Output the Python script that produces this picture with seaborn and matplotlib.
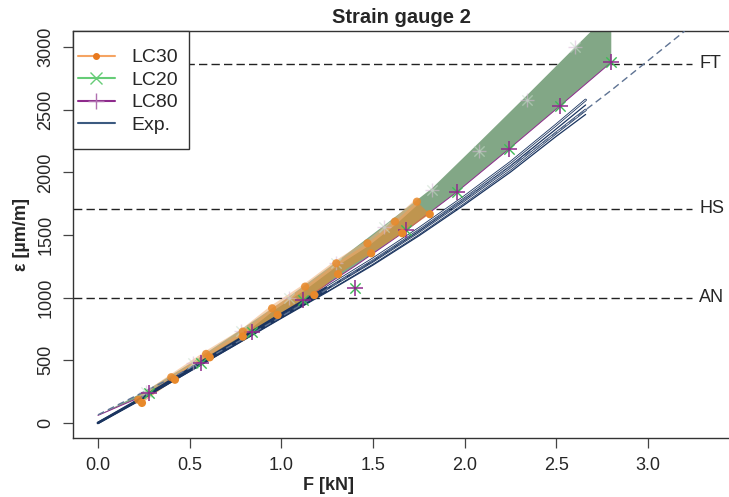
import numpy as np
import pandas as pd
import seaborn as sns
import matplotlib
matplotlib.use("Agg")
from matplotlib import pyplot as plt
from matplotlib.lines import Line2D
from matplotlib.patches import Rectangle

# ---------------------------------------------------------------
# Data
# ---------------------------------------------------------------
# LC20 band (green), upper and lower edges
lc20_up_F = [0.0, 0.26, 0.52, 0.78, 1.04, 1.30, 1.56, 1.82, 2.08, 2.34, 2.60, 2.80]
lc20_up_eps = [60, 255, 490, 745, 1005, 1285, 1575, 1870, 2240, 2615, 2995, 3285]
lc20_lo_F = [0.0, 0.28, 0.56, 0.84, 1.12, 1.40, 1.68, 1.96, 2.24, 2.52, 2.80]
lc20_lo_eps = [60, 237, 476, 729, 982, 1250, 1535, 1846, 2184, 2530, 2879]

# LC80 / LC20 markers on the lower edge
lc80_F = [0.28, 0.56, 0.84, 1.12, 1.40, 1.68, 1.96, 2.24, 2.52, 2.80]
lc80_eps = [237, 476, 729, 982, 1080, 1540, 1846, 2184, 2530, 2879]

# faint markers on the upper edge
faint_F = [0.26, 0.52, 0.78, 1.04, 1.30, 1.56, 1.82, 2.08, 2.34, 2.60]
faint_eps = [250, 481, 737, 995, 1279, 1567, 1860, 2168, 2578, 3000]

# LC30 band (orange)
lc30_up_F = [0.22, 0.40, 0.59, 0.79, 0.95, 1.13, 1.30, 1.47, 1.62, 1.74]
lc30_up_eps = [185, 365, 551, 729, 915, 1088, 1274, 1434, 1607, 1766]
lc30_lo_F = [0.24, 0.42, 0.61, 0.79, 0.98, 1.18, 1.31, 1.49, 1.66, 1.81]
lc30_lo_eps = [160, 345, 524, 689, 862, 1021, 1187, 1354, 1514, 1666]

# Experiments
exp_F = [0.0, 0.25, 0.5, 0.75, 1.0, 1.25, 1.5, 1.75, 2.0, 2.25, 2.5, 2.66]
exp1_eps = [0, 210, 432, 650, 870, 1085, 1310, 1552, 1808, 2080, 2380, 2578]
exp2_eps = [0, 206, 424, 640, 857, 1070, 1292, 1530, 1784, 2052, 2347, 2538]
exp3_eps = [0, 202, 417, 630, 845, 1056, 1275, 1510, 1762, 2026, 2316, 2498]
exp4_eps = [0, 199, 411, 622, 835, 1044, 1260, 1493, 1742, 2002, 2288, 2462]

# dashed fit line
fit_F = [0.0, 0.4, 0.8, 1.2, 1.6, 2.0, 2.4, 2.8, 3.2]
fit_eps = [65, 358, 677, 1021, 1392, 1787, 2208, 2655, 3127]

# reference levels
levels = {"AN": 1000, "HS": 1710, "FT": 2865}

# ---------------------------------------------------------------
sns.set_style("white")
plt.rcParams['font.family'] = ['Liberation Sans', 'DejaVu Sans']

W, H = 729, 497
fig = plt.figure(figsize=(W / 100, H / 100), dpi=100)
ax = fig.add_axes([73 / W, 1 - 438 / H, 1 - 73 / W, (438 - 31) / H])

orange = "#E8892B"
green = "#82A786"
purple = "#8E2A8C"
navy = "#1B3560"

# green band
ax.fill(lc20_up_F + lc20_lo_F[::-1], lc20_up_eps + lc20_lo_eps[::-1],
        color=green, lw=0, zorder=2)
sns.lineplot(x=lc20_lo_F, y=lc20_lo_eps, ax=ax, color=purple, lw=0.7,
             sort=False, estimator=None, zorder=3)

# orange band
ax.fill(lc30_up_F + lc30_lo_F[::-1], lc30_up_eps + lc30_lo_eps[::-1],
        color=orange, alpha=0.6, lw=0, zorder=4)
sns.lineplot(x=lc30_up_F, y=lc30_up_eps, ax=ax, color="#F2B27A", lw=4,
             alpha=0.55, sort=False, estimator=None, zorder=4)

# experiments (two drawn hollow like the scanned traces)
for i, e in enumerate([exp1_eps, exp2_eps, exp3_eps, exp4_eps]):
    if i in (0, 2):
        sns.lineplot(x=exp_F, y=e, ax=ax, color=navy, lw=1.8,
                     sort=False, estimator=None, zorder=5)
        sns.lineplot(x=exp_F[5:], y=e[5:], ax=ax, color="white", lw=0.6,
                     sort=False, estimator=None, zorder=5)
    else:
        sns.lineplot(x=exp_F, y=e, ax=ax, color=navy, lw=0.9,
                     sort=False, estimator=None, zorder=5)
sns.lineplot(x=fit_F, y=fit_eps, ax=ax, color="#5E7393", lw=1,
             linestyle=(0, (5, 3)), sort=False, estimator=None, zorder=5)

# markers
sns.scatterplot(x=faint_F, y=faint_eps, ax=ax, marker="+", color="#D8B8D8",
                s=110, linewidth=1, alpha=0.55, zorder=6)
sns.scatterplot(x=faint_F, y=faint_eps, ax=ax, marker="x", color="#C8DCCB",
                s=55, linewidth=1, alpha=0.55, zorder=6)
sns.scatterplot(x=lc80_F, y=lc80_eps, ax=ax, marker="x", color="#3DBB55",
                s=55, linewidth=1, zorder=7)
sns.scatterplot(x=lc80_F, y=lc80_eps, ax=ax, marker="+", color=purple,
                s=130, linewidth=1.1, zorder=7)
sns.scatterplot(x=lc30_up_F, y=lc30_up_eps, ax=ax, color=orange, s=35,
                edgecolor="none", alpha=0.85, zorder=7)
sns.scatterplot(x=lc30_lo_F, y=lc30_lo_eps, ax=ax, color=orange, s=35,
                edgecolor="none", zorder=7)

# reference lines + labels
for name, val in levels.items():
    ax.plot([-0.2, 3.24], [val, val], color="#222222", lw=1,
            linestyle=(0, (6, 3)), zorder=1)
    ax.text(3.28, val, name, fontsize=13, va="center", ha="left")

ax.set_xlim(-0.136, 3.442)
ax.set_ylim(-120, 3128)
ax.set_xticks([0.0, 0.5, 1.0, 1.5, 2.0, 2.5, 3.0])
ax.set_xticklabels(["0.0", "0.5", "1.0", "1.5", "2.0", "2.5", "3.0"], fontsize=13)
ax.set_yticks([0, 500, 1000, 1500, 2000, 2500, 3000])
ax.set_yticklabels(["0", "500", "1000", "1500", "2000", "2500", "3000"],
                   fontsize=13, rotation=90, va="center")
ax.tick_params(direction="out", length=7.5, width=0.9, color="#444444",
               left=True, bottom=True, pad=6)

for s in ["left", "bottom", "top"]:
    ax.spines[s].set_color("#333333")
    ax.spines[s].set_linewidth(1)
ax.spines["right"].set_visible(False)

ax.set_xlabel("F [kN]", fontsize=13, fontweight="bold")
ax.xaxis.set_label_coords(0.389, -0.095)
ax.set_ylabel("ε [µm/m]", fontsize=13, fontweight="bold")
ax.yaxis.set_label_coords(-0.066, 0.5)
ax.set_title("Strain gauge 2", fontsize=14.5, fontweight="bold", pad=6)

# legend box drawn like R's (square, tight left padding)
box = Rectangle((0, 1 - (149 - 31) / (438 - 31)), (189 - 73) / (729 - 73),
                (149 - 31) / (438 - 31), transform=ax.transAxes,
                facecolor="white", edgecolor="#333333", lw=1, zorder=9,
                clip_on=False)
ax.add_patch(box)

handles = [
    Line2D([], [], color="#F5A463", lw=1.5, marker="o", markersize=4,
           markerfacecolor="#E8791E", markeredgecolor="#E8791E"),
    Line2D([], [], color="#66CC77", lw=1.5, marker="x", markersize=8),
    Line2D([], [], color=purple, lw=1.5, marker="+", markersize=12,
           markeredgecolor="#B070B0"),
    Line2D([], [], color="#3C5A80", lw=1.5),
]
leg = ax.legend(handles, ["LC30", "LC20", "LC80", "Exp."], loc="upper left",
                bbox_to_anchor=(0.0, 1 - 13 / 407), borderaxespad=0,
                fontsize=14, frameon=False, handlelength=1.9,
                labelspacing=0.25, borderpad=0.25, handletextpad=0.85)
leg.set_zorder(10)

fig.savefig("out.png", dpi=100)
